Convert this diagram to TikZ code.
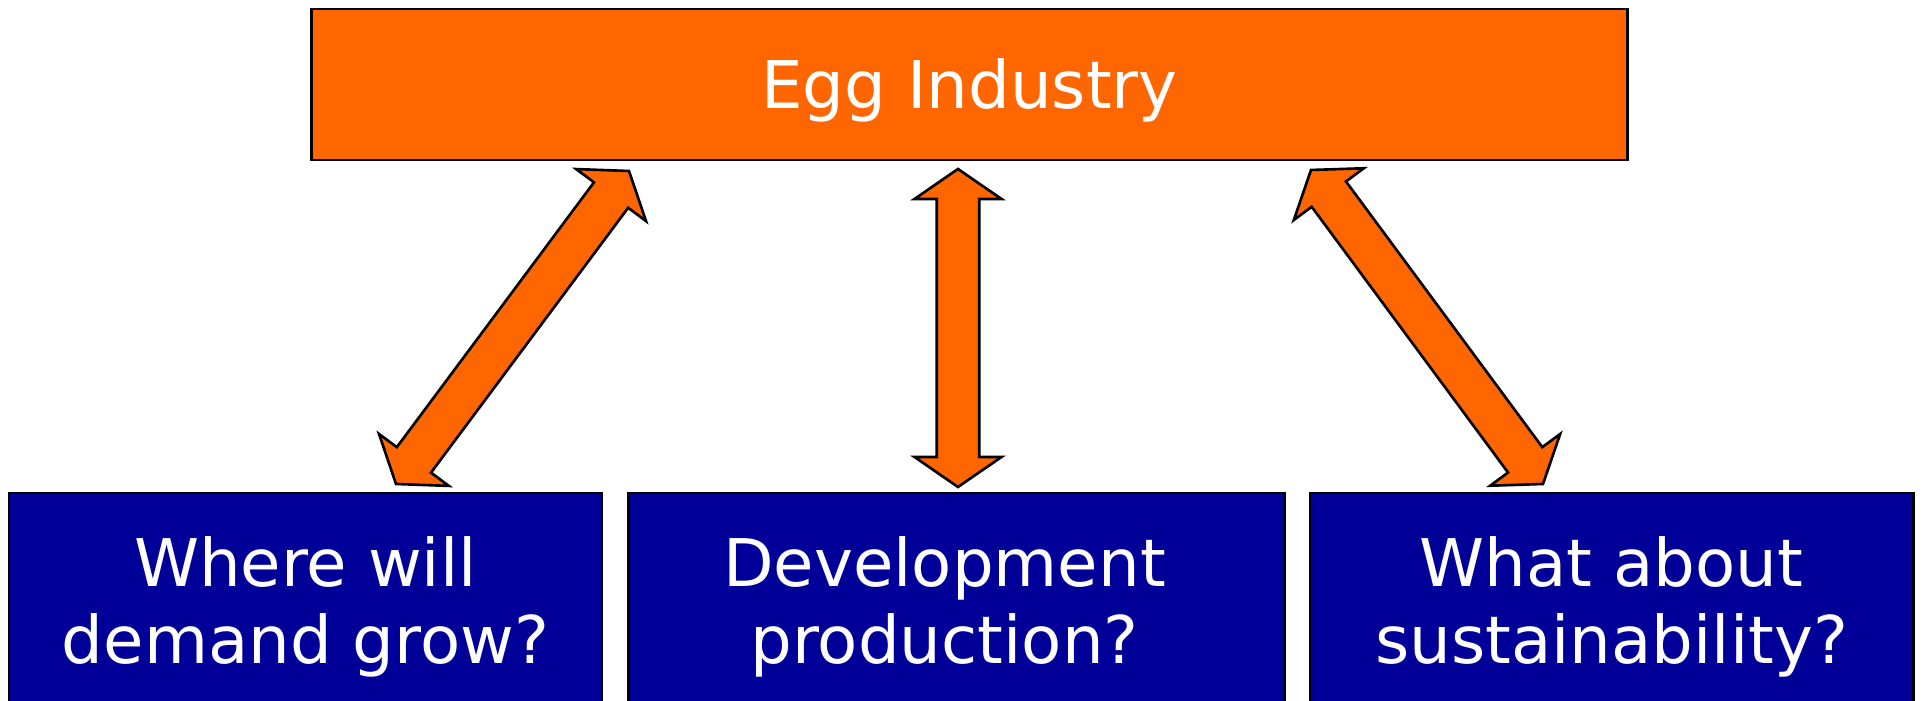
\documentclass[tikz,border=0pt]{standalone}
\usepackage{fontspec}
\setmainfont{DejaVu Sans}
\usetikzlibrary{calc}
\definecolor{eggOrange}{RGB}{255,102,0}
\definecolor{eggBlue}{RGB}{0,0,153}

\begin{document}
\begin{tikzpicture}[x=0.01cm,y=-0.01cm,
        txt/.style={text=white,inner sep=0pt,align=center,font=\fontsize{18.7}{21.9}\selectfont},
        topbox/.style={draw=black,line width=0.75pt,fill=eggOrange,minimum width=13.15cm,minimum height=1.51cm},
        qbox/.style={draw=black,line width=0.75pt,fill=eggBlue,minimum height=2.28cm},
        blockarrow/.style={draw=black,line width=0.75pt,fill=eggOrange}]
        \useasboundingbox (0,0) rectangle (1923,701);
        % top box
        \node[topbox] (egg) at (969.5,84.5) {};
        \node[txt,anchor=base] (eggtext) at (969.5,108.5) {Egg Industry};
        % question boxes
        \node[qbox,minimum width=5.93cm] (demand) at (305.5,607) {};
        \node[txt] (demandtext) at (demand) {Where will\\demand grow?};
        \node[qbox,minimum width=6.55cm] (develop) at (956.5,607) {};
        \node[txt] (developtext) at (944.5,607) {Development\\production?};
        \node[qbox,minimum width=6.03cm] (sustain) at (1611.5,607) {};
        \node[txt] (sustaintext) at (sustain) {What about\\sustainability?};
        % arrow ends
        \coordinate (l1) at (629,171);
        \coordinate (l2) at (396,484);
        \coordinate (m1) at (958,169);
        \coordinate (m2) at (958,487);
        \coordinate (r1) at (1311,170);
        \coordinate (r2) at (1543,484);
        % double block arrows
        \foreach \a/\b in {l1/l2, m1/m2, r1/r2} {
            \coordinate (ha) at ($(\a)!0.3cm!(\b)$);
            \coordinate (hb) at ($(\b)!0.3cm!(\a)$);
            \draw[blockarrow] (\a) -- ($(ha)!0.435cm!90:(\b)$) -- ($(ha)!0.213cm!90:(\b)$)
                -- ($(hb)!0.213cm!-90:(\a)$) -- ($(hb)!0.435cm!-90:(\a)$) -- (\b)
                -- ($(hb)!0.435cm!90:(\a)$) -- ($(hb)!0.213cm!90:(\a)$)
                -- ($(ha)!0.213cm!-90:(\b)$) -- ($(ha)!0.435cm!-90:(\b)$) -- cycle;
        }
\end{tikzpicture}
\end{document}
